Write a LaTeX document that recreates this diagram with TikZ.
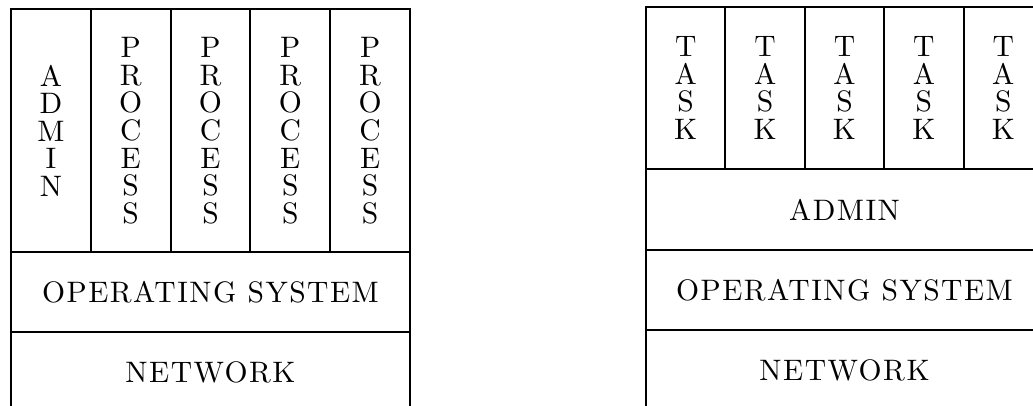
\documentclass[tikz,border=0pt]{standalone}
\usepackage{fontspec}
\newfontfamily\layerfont[LetterSpace=5, Extension=.otf]{lmroman10-regular}
\begin{document}
\begin{tikzpicture}[x=0.5pt,y=-0.5pt,
  cell/.style={draw, line width=1pt, inner sep=0pt, outer sep=0pt,
    align=center, anchor=north west,
    font={\layerfont\fontsize{14.8}{13.8}\selectfont}},
  lcol/.style={cell, minimum width=39.9pt, minimum height=121.25pt},
  lrow/.style={cell, minimum width=199.5pt, minimum height=40pt},
  rcol/.style={cell, minimum width=39.7pt, minimum height=81pt},
  rrow/.style={cell, minimum width=198.5pt, minimum height=40pt},
  rrowa/.style={cell, minimum width=198.5pt, minimum height=40.5pt}]
\useasboundingbox (0,0) rectangle (1033,406);
\clip (0,0) rectangle (1033,406);

% left stack: admin and processes over the operating system
\node[lcol] (adm)  at (11,9.5)     {A\\D\\M\\I\\N};
\node[lcol] (pr1)  at (90.8,9.5)   {P\\R\\O\\C\\E\\S\\S};
\node[lcol] (pr2)  at (170.6,9.5)  {P\\R\\O\\C\\E\\S\\S};
\node[lcol] (pr3)  at (250.4,9.5)  {P\\R\\O\\C\\E\\S\\S};
\node[lcol] (pr4)  at (330.2,9.5)  {P\\R\\O\\C\\E\\S\\S};
\node[lrow] (los)  at (11,252)     {OPERATING SYSTEM};
\node[lrow] (lnet) at (11,332)     {NETWORK};

% right stack: tasks over a shared admin layer
\node[rcol] (t1)   at (646,7)      {T\\A\\S\\K};
\node[rcol] (t2)   at (725.4,7)    {T\\A\\S\\K};
\node[rcol] (t3)   at (804.8,7)    {T\\A\\S\\K};
\node[rcol] (t4)   at (884.2,7)    {T\\A\\S\\K};
\node[rcol] (t5)   at (963.6,7)    {T\\A\\S\\K};
\node[rrowa] (radm) at (646,169)   {ADMIN};
\node[rrow] (ros)  at (646,250)    {OPERATING SYSTEM};
\node[rrow] (rnet) at (646,330)    {NETWORK};
\end{tikzpicture}
\end{document}
